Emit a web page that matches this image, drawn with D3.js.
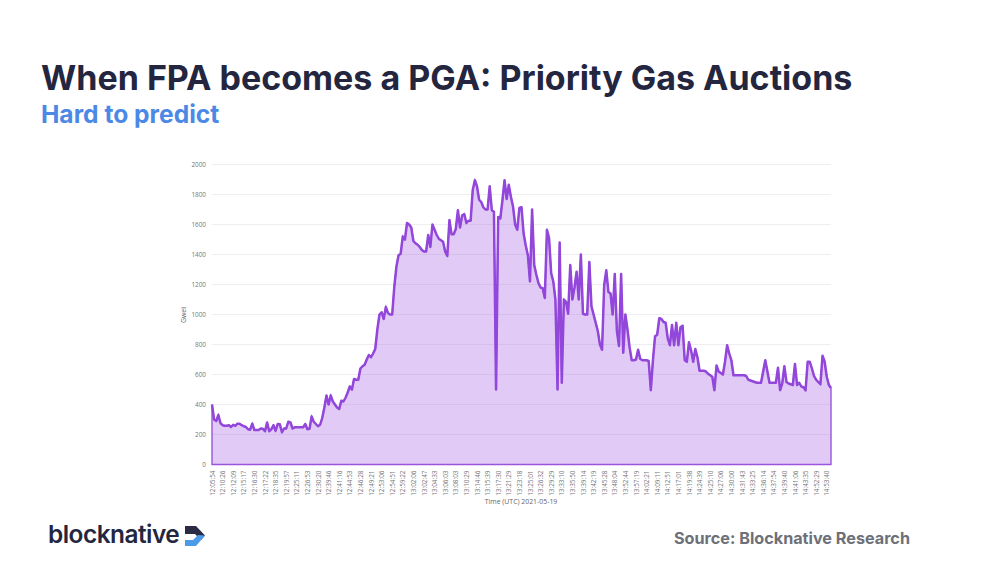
<!DOCTYPE html>
<html>
<head>
<title>When FPA becomes a PGA</title>
<style>
body { margin: 0; background: #fff; }
svg { display: block; }
.tick text { font-family: "Open Sans", sans-serif; font-size: 6.4px; fill: #77777c; }
.axis-name { font-family: "Open Sans", sans-serif; font-size: 6.9px; fill: #66666b; }
</style>
<script src="https://cdn.jsdelivr.net/npm/d3@7"></script>
</head>
<body>
<svg id="chart" width="1004" height="566"></svg>
<script>
var titleText = 'When FPA becomes a PGA: Priority Gas Auctions';
var subtitleText = 'Hard to predict';
var sourceText = 'Source: Blocknative Research';
var logoText = 'blocknative';

var yTicks = [0, 200, 400, 600, 800, 1000, 1200, 1400, 1600, 1800, 2000];

// one label every 5 samples
var samplesPerLabel = 5;
var timeLabels = [
  '12:05:54','12:10:26','12:12:09','12:15:17','12:16:30','12:17:22','12:18:35','12:19:57','12:25:11','12:26:53',
  '12:30:20','12:39:46','12:41:16','12:44:53','12:46:28','12:49:21','12:53:06','12:54:51','12:59:22','13:02:06',
  '13:02:47','13:04:33','13:06:03','13:08:03','13:10:29','13:14:46','13:15:39','13:17:30','13:21:29','13:23:18',
  '13:25:01','13:26:32','13:29:29','13:33:10','13:35:50','13:39:14','13:42:19','13:45:28','13:48:04','13:52:44',
  '13:57:19','14:02:21','14:09:11','14:12:51','14:17:01','14:19:38','14:24:39','14:25:10','14:27:06','14:30:00',
  '14:31:43','14:33:25','14:36:14','14:37:54','14:39:40','14:41:06','14:43:35','14:52:29','14:53:40'
];

var gwei = [
  400,300,290,330,275,262,258,258,262,250,
  265,258,272,272,262,255,250,235,232,272,
  230,230,230,240,238,222,280,222,235,262,
  225,270,268,215,240,240,285,280,240,248,
  248,248,248,248,270,235,238,320,285,270,
  255,265,310,380,460,400,460,420,400,380,
  370,425,420,445,480,520,500,570,565,565,
  640,655,665,700,730,715,740,770,900,1000,
  1015,970,1050,1010,1000,1000,1185,1320,1395,1405,
  1520,1500,1610,1600,1580,1490,1475,1465,1450,1430,
  1420,1420,1530,1450,1600,1565,1530,1505,1495,1485,
  1420,1390,1630,1535,1535,1570,1695,1580,1660,1670,
  1610,1625,1625,1830,1895,1855,1765,1750,1715,1700,
  1700,1855,1695,1685,500,1650,1640,1760,1895,1770,
  1865,1785,1720,1600,1565,1710,1715,1540,1460,1395,
  1220,1700,1330,1265,1210,1180,1175,1110,1565,1510,
  1275,1220,1100,500,1480,545,1100,1085,1005,1330,
  1100,1180,1285,1100,1400,1005,1000,1000,1350,1055,
  1000,945,890,800,765,1195,1295,1150,1140,1000,
  1270,890,790,1270,745,1000,900,780,695,695,
  700,765,705,695,695,695,690,495,695,855,
  865,975,970,950,945,840,795,930,795,945,
  795,915,925,695,685,815,760,685,770,715,
  625,625,625,620,605,595,585,495,660,620,
  610,600,685,795,740,695,595,595,595,595,
  595,595,590,565,560,555,550,545,545,545,
  620,695,620,545,545,545,545,645,495,540,
  655,550,540,535,530,670,530,545,520,515,
  495,685,685,640,590,565,550,535,725,685,
  585,530,510
];

var svg = d3.select('#chart');
var plot = { left: 212, right: 831, top: 164.5, bottom: 464.5 };

var x = d3.scaleLinear().domain([0, gwei.length - 1]).range([plot.left, plot.right]);
var y = d3.scaleLinear().domain([0, 2000]).range([plot.bottom, plot.top]);

// headings
svg.append('text').attr('x', 41).attr('y', 90)
  .style('font', '700 34px Inter, sans-serif').style('fill', '#24263f')
  .text(titleText);
svg.append('text').attr('x', 41).attr('y', 123)
  .style('font', '700 24.6px Inter, sans-serif').style('fill', '#4c88e6')
  .text(subtitleText);

// area + line
var area = d3.area().x(function(d, i) { return x(i); }).y0(y(0)).y1(function(d) { return y(d); });
var line = d3.line().x(function(d, i) { return x(i); }).y(function(d) { return y(d); });

svg.append('path').datum(gwei).attr('d', area)
  .attr('fill', '#e2caf7').attr('stroke', '#9a55dc').attr('stroke-width', 1.4);

// grid sits over the fill
svg.append('g').selectAll('line').data(yTicks.slice(1)).enter().append('line')
  .attr('x1', plot.left).attr('x2', plot.right)
  .attr('y1', function(d) { return y(d); }).attr('y2', function(d) { return y(d); })
  .attr('stroke', '#8a8a9a').attr('stroke-opacity', 0.14).attr('stroke-width', 1);

svg.append('path').datum(gwei).attr('d', line)
  .attr('fill', 'none').attr('stroke', '#9247da').attr('stroke-width', 2.5).attr('stroke-linejoin', 'round');

// axes
var yAxis = d3.axisLeft(y).tickValues(yTicks).tickFormat(d3.format('d')).tickSize(0).tickPadding(6);
var gy = svg.append('g').attr('transform', 'translate(' + plot.left + ',0)').call(yAxis);
gy.select('.domain').remove();

var xTicks = timeLabels.map(function(d, i) { return i * samplesPerLabel; });
var xAxis = d3.axisBottom(x).tickValues(xTicks).tickSize(0).tickPadding(0)
  .tickFormat(function(d) { return timeLabels[d / samplesPerLabel]; });
var gx = svg.append('g').attr('transform', 'translate(0,' + plot.bottom + ')').call(xAxis);
gx.select('.domain').remove();
gx.selectAll('text')
  .attr('transform', 'rotate(-90)')
  .attr('x', -6).attr('y', 0).attr('dy', '0.32em')
  .style('text-anchor', 'end');

svg.append('text').attr('class', 'axis-name')
  .attr('transform', 'translate(186,315) rotate(-90)').attr('text-anchor', 'middle').text('Gwei');
svg.append('text').attr('class', 'axis-name')
  .attr('x', 521).attr('y', 504).attr('text-anchor', 'middle').text('Time (UTC) 2021-05-19');

// footer
svg.append('text').attr('x', 48).attr('y', 543)
  .style('font', '600 24.4px Inter, sans-serif').style('fill', '#24263f')
  .style('letter-spacing', '-0.5px')
  .text(logoText);
var logo = svg.append('g').attr('transform', 'translate(185,526)');
logo.append('path').attr('d', 'M0 0H11L20 9.5L16 14L10 8H0Z').attr('fill', '#2a2c45');
logo.append('path').attr('d', 'M20 9.5L11 20H0V14H8L13 9Z').attr('fill', '#4c9be8');

svg.append('text').attr('x', 674).attr('y', 544)
  .style('font', '700 16.2px Inter, sans-serif').style('fill', '#6d7078')
  .text(sourceText);
</script>
</body>
</html>
